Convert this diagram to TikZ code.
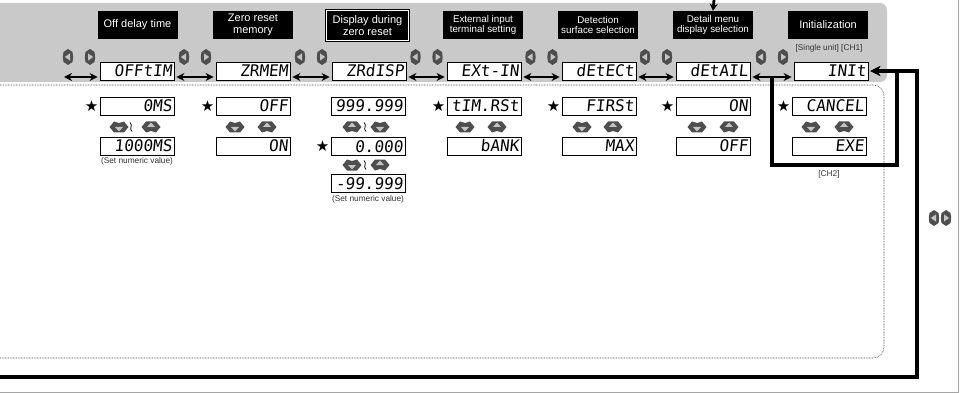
\documentclass[tikz,border=0pt]{standalone}
\usepackage{fontspec}
\setmainfont{Liberation Sans}
\newfontfamily\lcdfont[FakeSlant=0.1]{DejaVu Sans Mono}
\newfontfamily\symfont{DejaVu Sans}
\usetikzlibrary{arrows.meta, positioning, calc}
\definecolor{bandgrey}{RGB}{201,201,201}
\definecolor{keygrey}{RGB}{78,78,78}
\definecolor{keylight}{RGB}{196,196,196}
\definecolor{framegrey}{RGB}{165,165,165}
\newcommand{\hdrfont}{\fontsize{11}{12.2}\selectfont}
\newcommand{\hdrsmall}{\fontsize{9.8}{10.8}\selectfont}
\newcommand{\lrkeys}[1]{\pic at ([xshift=-11pt,yshift=14pt]#1) {keyleft}; \pic at ([xshift=11pt,yshift=14pt]#1) {keyright};}

\begin{document}
\begin{tikzpicture}[x=1pt, y=-1pt,
        >=Stealth,
        header/.style={fill=black, text=white, minimum width=80pt, minimum height=28pt, align=center, inner sep=1pt, font=\hdrfont},
        headersm/.style={header, font=\hdrsmall},
        current/.style={header, draw=black, line width=0.8pt, double=white, double distance=1.4pt, minimum width=82pt, minimum height=30pt},
        lcd/.style={draw, line width=0.8pt, fill=white, minimum width=74pt, minimum height=18pt, text width=70pt, text height=11.6pt, text depth=0pt, align=right, inner sep=1.5pt, font=\lcdfont\fontsize{16}{16}\selectfont},
        defstar/.style={font=\symfont\fontsize{15}{15}\selectfont, inner sep=0pt},
        note/.style={font=\fontsize{8.3}{9}\selectfont, text=black!80, inner sep=1pt},
        navarrow/.style={line width=2.7pt, {Stealth[length=8pt,width=8pt]}-{Stealth[length=8pt,width=8pt]}, shorten <=2pt, shorten >=2pt},
        loopline/.style={line width=4.3pt, -{Stealth[length=10pt,width=10pt]}, shorten >=2pt},
        dotline/.style={black!70, line width=0.6pt, dash pattern=on 0.8pt off 0.8pt, rounded corners=11pt},
        keyleft/.pic={\fill[keygrey] (0,-8) -- (4.5,-5) -- (5.2,0) -- (4.5,5) -- (0,8) -- (-4.5,5) -- (-5.2,0) -- (-4.5,-5) -- cycle;
            \fill[keylight] (-3.2,0) -- (2,-3.6) -- (2,3.6) -- cycle;},
        keyright/.pic={\fill[keygrey] (0,-8) -- (4.5,-5) -- (5.2,0) -- (4.5,5) -- (0,8) -- (-4.5,5) -- (-5.2,0) -- (-4.5,-5) -- cycle;
            \fill[keylight] (3.2,0) -- (-2,-3.6) -- (-2,3.6) -- cycle;},
        keydown/.pic={\fill[keygrey] (-9.5,0) -- (-5,-5.5) -- (0,-4) -- (5,-5.5) -- (9.5,0) -- (5,5.5) -- (-5,5.5) -- cycle;
            \fill[keylight] (0,4.5) -- (4,0) -- (-4,0) -- cycle;},
        keyup/.pic={\fill[keygrey] (-9.5,0) -- (-5,-5.5) -- (5,-5.5) -- (9.5,0) -- (5,5.5) -- (0,4) -- (-5,5.5) -- cycle;
            \fill[keylight] (0,-4.5) -- (4,0) -- (-4,0) -- cycle;},
        wave/.pic={\draw[line width=0.8pt] (-1,-4.5) .. controls (2.5,-1.5) and (-2.5,1.5) .. (1,4.5);}
    ]
        \useasboundingbox (0,0) rectangle (966,393);

        % grey menu band, setting area and frame
        \fill[bandgrey] (0,3) [rounded corners=7pt] -- (887,3) -- (887,82) [sharp corners] -- (0,82) -- cycle;
        \draw[dotline] (0,85) -- (884,85) -- (884,358) -- (0,358);
        \draw[framegrey, line width=1pt] (0,392) -- (958,392) -- (958,0);

        % menu titles
        \node[header] (h1) at (137.5,25) {Off delay time};
        \node[header] (h2) at (253,25) {Zero reset\\memory};
        \node[current] (h3) at (367.5,25.5) {Display during\\zero reset};
        \node[headersm] (h4) at (483,25) {External input\\terminal setting};
        \node[headersm] (h5) at (598,25) {Detection\\surface selection};
        \node[headersm] (h6) at (713,25) {Detail menu\\display selection};
        \node[header] (h7) at (828,25) {Initialization};
        \node[note] (unit) at (829,48) {[Single unit] [CH1]};

        % menu displays
        \node[lcd] (d1) at (137,71) {OFFtIM};
        \node[lcd] (d2) at (253,71) {ZRMEM};
        \node[lcd] (d3) at (369,71) {ZRdISP};
        \node[lcd] (d4) at (484,71) {EXt-IN};
        \node[lcd] (d5) at (599,71) {dEtECt};
        \node[lcd] (d6) at (713,71) {dEtAIL};
        \node[lcd] (d7) at (831,71) {INIt};

        \coordinate (navin) at (62,77);
        \coordinate (m01) at (79,71);
        \coordinate (m12) at ($(d1.east)!0.5!(d2.west)$);
        \coordinate (m23) at ($(d2.east)!0.5!(d3.west)$);
        \coordinate (m34) at ($(d3.east)!0.5!(d4.west)$);
        \coordinate (m45) at ($(d4.east)!0.5!(d5.west)$);
        \coordinate (m56) at ($(d5.east)!0.5!(d6.west)$);
        \coordinate (m67) at ($(d6.east)!0.5!(d7.west)$);

        \draw[navarrow] (navin) -- ([yshift=-6pt]d1.west);
        \draw[navarrow] ([yshift=-6pt]d1.east) -- ([yshift=-6pt]d2.west);
        \draw[navarrow] ([yshift=-6pt]d2.east) -- ([yshift=-6pt]d3.west);
        \draw[navarrow] ([yshift=-6pt]d3.east) -- ([yshift=-6pt]d4.west);
        \draw[navarrow] ([yshift=-6pt]d4.east) -- ([yshift=-6pt]d5.west);
        \draw[navarrow] ([yshift=-6pt]d5.east) -- ([yshift=-6pt]d6.west);
        \draw[navarrow] ([yshift=-6pt]d6.east) -- ([yshift=-6pt]d7.west);
        \lrkeys{m01} \lrkeys{m12} \lrkeys{m23} \lrkeys{m34} \lrkeys{m45} \lrkeys{m56} \lrkeys{m67}

        % entry arrow and return paths
        \coordinate (menuin) at (714,0);
        \draw[line width=2.8pt, -{Stealth[length=7pt,width=8pt]}] (menuin) -- (h6.north);
        \coordinate (ch2corner) at (897,165);
        \coordinate (loopstart) at (0,377);
        \coordinate (loopcorner) at (917,377);
        \draw[loopline] ([yshift=-6pt]m67) |- (ch2corner) |- (d7.east);
        \draw[loopline] (loopstart) -- (loopcorner) |- (d7.east);
        \pic at (934,218) {keyleft};
        \pic at (946,218) {keyright};

        % settings
        \node[lcd] (s1a) at (137,106) {0MS};
        \node[defstar, left=1pt of s1a] (st1) {★};
        \pic at (119,127) {keydown}; \pic at (131,127) {wave}; \pic at (151,127) {keyup};
        \node[lcd] (s1b) at (137,146) {1000MS};
        \node[note, below=1pt of s1b] (n1) {(Set numeric value)};

        \node[lcd] (s2a) at (253,106) {OFF};
        \node[defstar, left=1pt of s2a] (st2) {★};
        \pic at (235,127) {keydown}; \pic at (267,127) {keyup};
        \node[lcd] (s2b) at (253,146) {ON};

        \node[lcd] (s3a) at (368,106) {999.999};
        \pic at (352,127) {keyup}; \pic at (365,127) {wave}; \pic at (380,127) {keydown};
        \node[lcd] (s3b) at (368,146.5) {0.000};
        \node[defstar, left=1pt of s3b] (st3) {★};
        \pic at (352,165) {keydown}; \pic at (365,165) {wave}; \pic at (380,165) {keyup};
        \node[lcd] (s3c) at (368,183.5) {-99.999};
        \node[note, below=1pt of s3c] (n3) {(Set numeric value)};

        \node[lcd] (s4a) at (484,106) {tIM.RSt};
        \node[defstar, left=1pt of s4a] (st4) {★};
        \pic at (465,127) {keydown}; \pic at (497,127) {keyup};
        \node[lcd] (s4b) at (484,146) {bANK};

        \node[lcd] (s5a) at (599,106) {FIRSt};
        \node[defstar, left=1pt of s5a] (st5) {★};
        \pic at (582,127) {keydown}; \pic at (613,127) {keyup};
        \node[lcd] (s5b) at (599,146) {MAX};

        \node[lcd] (s6a) at (713,106) {ON};
        \node[defstar, left=1pt of s6a] (st6) {★};
        \pic at (697,127) {keydown}; \pic at (729,127) {keyup};
        \node[lcd] (s6b) at (713,146) {OFF};

        \node[lcd] (s7a) at (829,106) {CANCEL};
        \node[defstar, left=1pt of s7a] (st7) {★};
        \pic at (811,127) {keydown}; \pic at (844,127) {keyup};
        \node[lcd] (s7b) at (829,146) {EXE};
        \node[note] (ch2) at (829,174) {[CH2]};
    \end{tikzpicture}
\end{document}
